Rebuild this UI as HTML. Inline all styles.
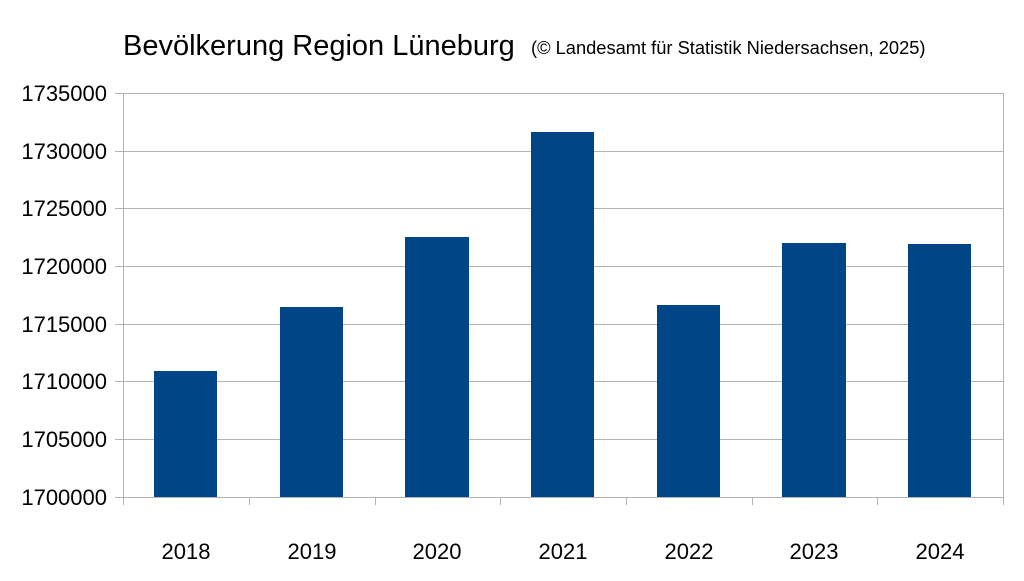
<!DOCTYPE html>
<html><head><meta charset="utf-8"><style>
body{margin:0;background:#fff;}
svg text{font-family:"Liberation Sans",sans-serif;fill:#000;}
</style></head><body>
<svg width="1024" height="576" xmlns="http://www.w3.org/2000/svg">
<rect width="1024" height="576" fill="#fff"/>
<text x="123" y="55" font-size="29">Bevölkerung Region Lüneburg</text>
<text x="531" y="54" font-size="18.3">(© Landesamt für Statistik Niedersachsen, 2025)</text>
<g stroke="#b3b3b3" stroke-width="1">
<line x1="115" y1="93.5" x2="1003" y2="93.5"/>
<line x1="115" y1="151.5" x2="1003" y2="151.5"/>
<line x1="115" y1="208.5" x2="1003" y2="208.5"/>
<line x1="115" y1="266.5" x2="1003" y2="266.5"/>
<line x1="115" y1="324.5" x2="1003" y2="324.5"/>
<line x1="115" y1="381.5" x2="1003" y2="381.5"/>
<line x1="115" y1="439.5" x2="1003" y2="439.5"/>
<line x1="115" y1="497.5" x2="1003" y2="497.5"/>
<line x1="123.5" y1="93" x2="123.5" y2="505"/>
<line x1="1003.5" y1="93" x2="1003.5" y2="505"/>
<line x1="249.5" y1="497" x2="249.5" y2="505"/>
<line x1="375.5" y1="497" x2="375.5" y2="505"/>
<line x1="500.5" y1="497" x2="500.5" y2="505"/>
<line x1="626.5" y1="497" x2="626.5" y2="505"/>
<line x1="752.5" y1="497" x2="752.5" y2="505"/>
<line x1="877.5" y1="497" x2="877.5" y2="505"/>
</g>
<g fill="#004586">
<rect x="154" y="371" width="63" height="126"/>
<rect x="280" y="307" width="63" height="190"/>
<rect x="405" y="237" width="64" height="260"/>
<rect x="531" y="132" width="63" height="365"/>
<rect x="657" y="305" width="63" height="192"/>
<rect x="782" y="243" width="64" height="254"/>
<rect x="908" y="244" width="63" height="253"/>
</g>
<g font-size="22" text-anchor="end">
<text x="107" y="101">1735000</text>
<text x="107" y="159">1730000</text>
<text x="107" y="216">1725000</text>
<text x="107" y="274">1720000</text>
<text x="107" y="332">1715000</text>
<text x="107" y="389">1710000</text>
<text x="107" y="447">1705000</text>
<text x="107" y="505">1700000</text>
</g>
<g font-size="22" text-anchor="middle">
<text x="186" y="559">2018</text>
<text x="312" y="559">2019</text>
<text x="437" y="559">2020</text>
<text x="563" y="559">2021</text>
<text x="689" y="559">2022</text>
<text x="814" y="559">2023</text>
<text x="940" y="559">2024</text>
</g>
</svg>
</body></html>
